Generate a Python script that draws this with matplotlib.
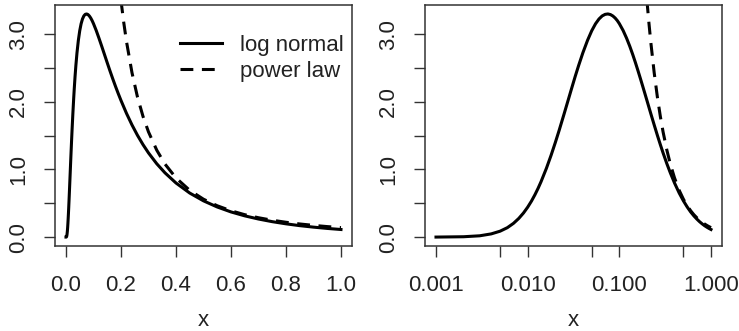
import matplotlib
matplotlib.use("Agg")
import matplotlib.pyplot as plt

plt.rcParams["font.family"] = ["Liberation Sans", "DejaVu Sans"]

# --- values (density vs x) ---
x_pts = [0.001, 0.002, 0.003, 0.004, 0.005, 0.006, 0.007, 0.008, 0.009, 0.01,
         0.011, 0.012, 0.013, 0.014, 0.016, 0.018, 0.02, 0.022, 0.025, 0.028,
         0.03, 0.033, 0.036, 0.04, 0.045, 0.05, 0.055, 0.06, 0.065, 0.07,
         0.075, 0.08, 0.085, 0.09, 0.095, 0.1, 0.11, 0.12, 0.13, 0.14,
         0.15, 0.16, 0.17, 0.18, 0.19, 0.2, 0.22, 0.24, 0.26, 0.28,
         0.3, 0.33, 0.36, 0.4, 0.45, 0.5, 0.55, 0.6, 0.65, 0.7,
         0.75, 0.8, 0.85, 0.9, 0.95, 1.0]
log_normal = [0.0, 0.005, 0.019, 0.047, 0.087, 0.139, 0.203, 0.276, 0.356, 0.442,
              0.532, 0.626, 0.722, 0.820, 1.016, 1.209, 1.396, 1.574, 1.824, 2.050,
              2.188, 2.376, 2.539, 2.725, 2.910, 3.052, 3.155, 3.226, 3.271, 3.294,
              3.300, 3.291, 3.270, 3.240, 3.202, 3.157, 3.055, 2.941, 2.822, 2.700,
              2.578, 2.458, 2.342, 2.230, 2.123, 2.021, 1.830, 1.659, 1.505, 1.368,
              1.245, 1.085, 0.950, 0.800, 0.651, 0.536, 0.445, 0.372, 0.314, 0.267,
              0.228, 0.196, 0.169, 0.147, 0.128, 0.112]

pl_x = [0.2, 0.21, 0.22, 0.24, 0.26, 0.28, 0.3, 0.33, 0.36, 0.4, 0.45,
        0.5, 0.55, 0.6, 0.65, 0.7, 0.75, 0.8, 0.85, 0.9, 0.95, 1.0]
power_law = [3.5, 3.175, 2.893, 2.431, 2.071, 1.786, 1.556, 1.286, 1.080, 0.875,
             0.691, 0.56, 0.463, 0.389, 0.331, 0.286, 0.249, 0.219, 0.194,
             0.173, 0.155, 0.14]

lin_ticks = [0.0, 0.2, 0.4, 0.6, 0.8, 1.0]
log_ticks = [0.001, 0.005, 0.01, 0.05, 0.1, 0.5, 1.0]
log_labels = ["0.001", "", "0.010", "", "0.100", "", "1.000"]
y_ticks = [0.0, 0.5, 1.0, 1.5, 2.0, 2.5, 3.0]
y_labels = ["0.0", "", "1.0", "", "2.0", "", "3.0"]

FS = 16
LW = 2.2
DASH = (0, (4.2, 2.8))
INK = "#222222"

fig = plt.figure(figsize=(7.39, 3.31), dpi=100)
ax_lin = fig.add_axes([0.0744, 0.2568, 0.4019, 0.728])
ax_log = fig.add_axes([0.5751, 0.2568, 0.4019, 0.728])

# left: linear x (curve starts at the origin)
ax_lin.plot([0.0] + x_pts, [0.0] + log_normal, color="black", lw=LW,
            label="log normal")
ax_lin.plot(pl_x, power_law, color="black", lw=LW, linestyle=DASH,
            label="power law")
ax_lin.set_xlim(-0.04, 1.04)
ax_lin.set_xticks(lin_ticks)
ax_lin.set_xticklabels([f"{t:.1f}" for t in lin_ticks])

# right: same curves on a log x axis
ax_log.plot(x_pts, log_normal, color="black", lw=LW)
ax_log.plot(pl_x, power_law, color="black", lw=LW, linestyle=DASH)
ax_log.set_xscale("log")
ax_log.set_xlim(10 ** -3.12, 10 ** 0.12)
ax_log.set_xticks(log_ticks)
ax_log.set_xticklabels(log_labels)
ax_log.minorticks_off()

for ax in (ax_lin, ax_log):
    ax.set_ylim(-0.132, 3.432)
    ax.set_yticks(y_ticks)
    ax.set_yticklabels(y_labels, rotation=90, va="center")
    ax.set_xlabel("x", fontsize=FS, color=INK, labelpad=10)
    ax.tick_params(direction="out", length=8, width=1.0, colors="#333333",
                   labelsize=FS, labelcolor=INK)
    ax.tick_params(axis="x", pad=13)
    ax.tick_params(axis="y", pad=10.5)
    for sp in ax.spines.values():
        sp.set_color("#333333")
        sp.set_linewidth(1.1)

ax_lin.legend(loc="upper left", bbox_to_anchor=(0.421, 0.875), frameon=False,
              fontsize=FS, handlelength=1.9, handletextpad=0.8,
              borderpad=0.0, borderaxespad=0.0, labelspacing=0.2,
              labelcolor=INK)

fig.savefig("out.png", dpi=100)
